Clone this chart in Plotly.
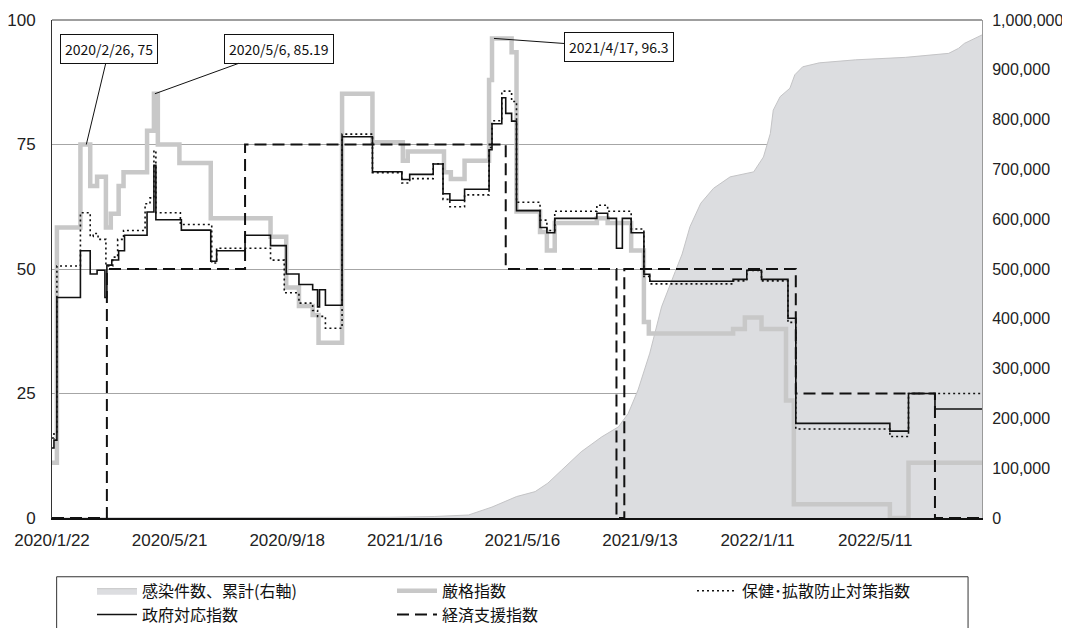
import plotly.graph_objects as go

# ---------------- データ ----------------
tick_dates = ['2020-01-22', '2020-05-21', '2020-09-18', '2021-01-16',
              '2021-05-16', '2021-09-13', '2022-01-11', '2022-05-11']
tick_labels = ['2020/1/22', '2020/5/21', '2020/9/18', '2021/1/16',
               '2021/5/16', '2021/9/13', '2022/1/11', '2022/5/11']

# 感染件数、累計 (右軸)
case_dates = ['2020-01-22', '2020-06-01', '2020-10-01', '2021-01-01', '2021-02-15',
              '2021-03-22', '2021-04-15', '2021-05-10', '2021-05-29', '2021-06-11',
              '2021-06-25', '2021-07-15', '2021-08-05', '2021-08-22', '2021-09-01',
              '2021-09-11', '2021-09-23', '2021-10-05', '2021-10-19', '2021-10-26',
              '2021-11-03', '2021-11-14', '2021-11-27', '2021-12-14', '2022-01-07',
              '2022-01-17', '2022-01-24', '2022-01-27', '2022-02-03', '2022-02-13',
              '2022-02-18', '2022-02-26', '2022-03-15', '2022-04-21', '2022-06-11',
              '2022-07-25', '2022-08-04', '2022-08-10', '2022-08-28']
case_values = [0, 200, 500, 1500, 3000,
               6000, 22000, 43000, 53000, 70000,
               96000, 133000, 163000, 183000, 210000,
               257000, 331000, 424000, 495000, 530000,
               585000, 632000, 662000, 685000, 695000,
               725000, 772000, 819000, 846000, 863000,
               890000, 906000, 914000, 920000, 925000,
               933000, 943000, 953000, 970000]

# 厳格指数
str_dates = ['2020-01-22', '2020-01-27', '2020-02-20', '2020-03-01', '2020-03-08',
             '2020-03-17', '2020-03-22', '2020-03-30', '2020-04-04', '2020-04-28',
             '2020-05-05', '2020-05-09', '2020-05-31', '2020-07-02', '2020-09-01',
             '2020-09-17', '2020-09-30', '2020-10-14', '2020-10-20', '2020-11-13',
             '2020-12-14', '2021-01-14', '2021-01-19', '2021-02-25', '2021-03-04',
             '2021-03-18', '2021-04-12', '2021-04-15', '2021-05-05', '2021-05-10',
             '2021-06-03', '2021-06-10', '2021-06-18', '2021-07-31', '2021-08-11',
             '2021-09-04', '2021-09-17', '2021-09-22', '2021-12-17', '2021-12-29',
             '2022-01-15', '2022-02-09', '2022-02-17', '2022-05-26', '2022-06-14',
             '2022-08-28']
str_values = [11.11, 58.33, 75.0, 66.67, 68.52,
              58.33, 61.11, 66.67, 69.44, 77.78,
              85.19, 75.0, 71.3, 60.19, 56.48,
              46.3, 42.59, 40.74, 35.19, 85.19,
              75.46, 71.76, 73.61, 69.44, 68.06,
              71.76, 87.96, 96.3, 93.52, 61.57,
              57.41, 53.7, 59.26, 60.19, 59.26,
              53.7, 39.35, 37.04, 37.96, 40.28,
              37.96, 23.61, 2.78, 0.0, 11.11,
              11.11]

# 保健・拡散防止対策指数
ch_dates = ['2020-01-22', '2020-01-24', '2020-01-27', '2020-02-20', '2020-03-01',
            '2020-03-04', '2020-03-09', '2020-03-17', '2020-03-24', '2020-03-29',
            '2020-04-04', '2020-04-26', '2020-05-01', '2020-05-05', '2020-05-07',
            '2020-06-01', '2020-07-03', '2020-07-08', '2020-09-01', '2020-09-15',
            '2020-09-30', '2020-10-14', '2020-10-19', '2020-10-27', '2020-11-13',
            '2020-12-14', '2021-01-13', '2021-01-21', '2021-02-14', '2021-02-24',
            '2021-03-03', '2021-03-18', '2021-04-12', '2021-04-15', '2021-04-25',
            '2021-05-05', '2021-05-10', '2021-06-03', '2021-06-10', '2021-06-18',
            '2021-07-31', '2021-08-11', '2021-09-04', '2021-09-17', '2021-09-23',
            '2021-12-17', '2021-12-31', '2022-01-15', '2022-02-11', '2022-02-19',
            '2022-05-26', '2022-06-14', '2022-08-28']
ch_values = [16.07, 17.26, 50.6, 61.31, 56.55,
             57.14, 55.95, 50.6, 52.38, 55.95,
             57.74, 63.1, 64.29, 73.81, 61.31,
             58.93, 51.19, 54.17, 51.79, 45.24,
             43.15, 41.67, 40.48, 38.1, 77.08,
             69.35, 67.26, 68.15, 71.13, 63.99,
             62.5, 64.88, 74.4, 79.76, 85.71,
             83.63, 63.39, 59.82, 57.74, 61.61,
             62.8, 61.61, 58.04, 48.51, 47.02,
             47.62, 49.7, 47.62, 39.29, 17.86,
             16.37, 25.0, 25.0]

# 政府対応指数
gov_dates = ['2020-01-22', '2020-01-24', '2020-01-27', '2020-02-20', '2020-03-01',
             '2020-03-08', '2020-03-16', '2020-03-18', '2020-03-23', '2020-03-30',
             '2020-04-05', '2020-04-28', '2020-05-05', '2020-05-07', '2020-06-02',
             '2020-07-02', '2020-07-08', '2020-08-06', '2020-09-01', '2020-09-17',
             '2020-09-30', '2020-10-14', '2020-10-19', '2020-10-21', '2020-10-27',
             '2020-11-13', '2020-12-14', '2021-01-13', '2021-01-21', '2021-02-14',
             '2021-02-24', '2021-03-03', '2021-03-18', '2021-04-12', '2021-04-15',
             '2021-04-25', '2021-04-29', '2021-05-05', '2021-05-10', '2021-06-03',
             '2021-06-10', '2021-06-18', '2021-07-31', '2021-08-11', '2021-08-20',
             '2021-08-26', '2021-09-04', '2021-09-17', '2021-09-23', '2021-12-17',
             '2021-12-31', '2022-01-15', '2022-02-11', '2022-02-19', '2022-05-26',
             '2022-06-14', '2022-07-11', '2022-08-28']
gov_values = [14.06, 15.63, 44.27, 53.65, 49.0,
              49.74, 44.27, 50.78, 51.82, 53.65,
              56.77, 61.46, 70.83, 59.9, 57.81,
              51.56, 53.65, 56.77, 54.69, 49.0,
              46.88, 45.83, 42.4, 45.83, 42.71,
              76.56, 69.53, 67.97, 69.01, 71.09,
              65.1, 63.8, 66.0, 73.96, 79.17,
              84.38, 81.25, 79.69, 61.72, 58.33,
              57.29, 60.16, 61.2, 60.16, 54.17,
              60.16, 57.29, 48.96, 47.53, 47.92,
              49.74, 47.92, 40.1, 19.01, 17.45,
              25.0, 21.88, 21.88]

# 経済支援指数
eco_dates = ['2020-01-22', '2020-03-18', '2020-08-06', '2021-04-29', '2021-08-20',
             '2021-08-28', '2022-02-19', '2022-07-11', '2022-08-28']
eco_values = [0, 50, 75, 50, 0, 50, 25, 0, 0]

# 注記 (日付, 値, ラベル)
notes = [('2020-02-26', 75, '2020/2/26, 75'),
         ('2020-05-06', 85.19, '2020/5/6, 85.19'),
         ('2021-04-17', 96.3, '2021/4/17, 96.3')]

# ---------------- 描画 ----------------
tick_font = dict(family='Liberation Sans, Arial', size=17, color='#222')
right_font = dict(family='Liberation Sans, Arial', size=16, color='#222')
jp_font = 'Noto Sans CJK JP'

fig = go.Figure()

# 累計感染件数は右軸 (y) に, 指数は左軸 (y2) に描く → 指数が面より手前になる
fig.add_trace(go.Scatter(x=case_dates, y=case_values, mode='lines', fill='tozeroy',
                         name='感染件数、累計(右軸)', yaxis='y',
                         line=dict(color='#c4c4c6', width=1), fillcolor='#dcdde0'))
fig.add_trace(go.Scatter(x=str_dates, y=str_values, mode='lines', name='厳格指数',
                         yaxis='y2', line=dict(color='#c8c8c8', width=4.5, shape='hv')))
fig.add_trace(go.Scatter(x=ch_dates, y=ch_values, mode='lines', name='保健･拡散防止対策指数',
                         yaxis='y2', line=dict(color='#111', width=1.6, shape='hv', dash='2px,3px')))
fig.add_trace(go.Scatter(x=gov_dates, y=gov_values, mode='lines', name='政府対応指数',
                         yaxis='y2', line=dict(color='#111', width=1.6, shape='hv')))
fig.add_trace(go.Scatter(x=eco_dates, y=eco_values, mode='lines', name='経済支援指数',
                         yaxis='y2', line=dict(color='#111', width=2, shape='hv', dash='12px,6px')))

for d, v, label in notes:
    fig.add_annotation(x=d, y=v, xref='x', yref='y2', text=label, showarrow=True,
                       arrowhead=0, arrowwidth=1, arrowcolor='#111', standoff=0,
                       bgcolor='white', bordercolor='#111', borderwidth=1, borderpad=4,
                       font=dict(family=jp_font, size=14, color='#111'))
fig.layout.annotations[0].update(ax=23, ay=-96)
fig.layout.annotations[1].update(ax=124, ay=-45)
fig.layout.annotations[2].update(ax=125, ay=9)

# 上枠線と凡例枠
fig.add_shape(type='line', xref='paper', yref='paper', x0=0, x1=1, y0=1, y1=1,
              line=dict(color='#7f7f7f', width=1.5))
fig.add_shape(type='rect', xref='paper', yref='paper', x0=0.005, x1=0.985,
              y0=-0.118, y1=-0.25, line=dict(color='#333', width=1))

# ページ本体の余白 (8px) を見込んだサイズ
fig.update_layout(
    width=1062, height=620,
    margin=dict(l=44, r=88, t=12, b=110, autoexpand=False),
    plot_bgcolor='white', paper_bgcolor='white',
    showlegend=True,
    legend=dict(orientation='h', x=0.043, xanchor='left', y=-0.112, yanchor='top',
                entrywidth=245, entrywidthmode='pixels', traceorder='normal',
                font=dict(family=jp_font, size=16, color='#111'),
                bgcolor='rgba(0,0,0,0)', itemwidth=40, tracegroupgap=0),
    xaxis=dict(type='date', range=['2020-01-22', '2022-08-28'], automargin=False,
               tickvals=tick_dates, ticktext=tick_labels, tickfont=tick_font,
               showgrid=False, showline=True, linecolor='#111', linewidth=1.5,
               ticks='', ticklabelstandoff=6, zeroline=False),
    yaxis=dict(side='right', range=[0, 1000000], dtick=100000, tickformat=',',
               tickfont=right_font, showgrid=False, zeroline=False, automargin=False,
               showline=True, linecolor='#9a9a9a', linewidth=1, ticks='',
               ticklabelstandoff=6),
    yaxis2=dict(side='left', overlaying='y', range=[0, 100], automargin=False,
                tickvals=[0, 25, 50, 75, 100], tickfont=tick_font,
                showgrid=True, gridcolor='#a6a6a6', gridwidth=1, zeroline=False,
                showline=True, linecolor='#333', linewidth=1, ticks='',
                ticklabelstandoff=12),
)

fig.write_html('out.html')
